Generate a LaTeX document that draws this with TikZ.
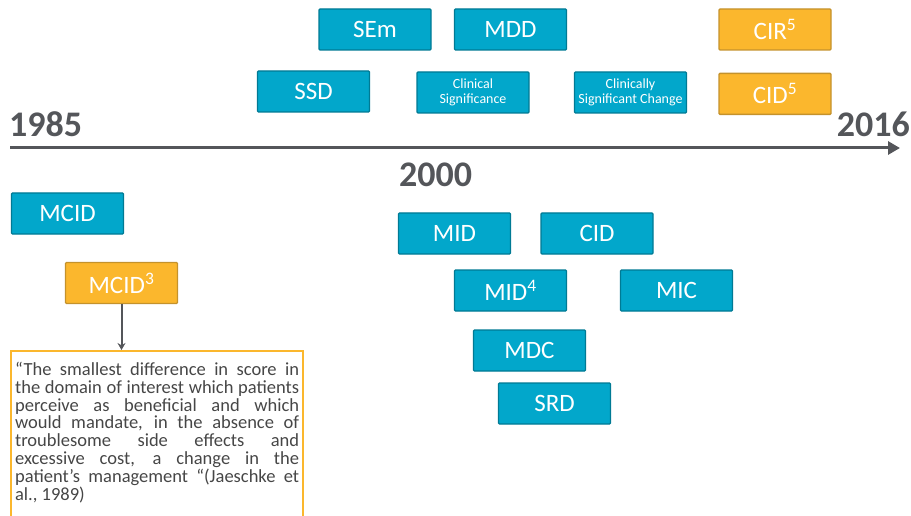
\documentclass[tikz,border=0pt]{standalone}
\usepackage{fontspec}
\setmainfont{Carlito}
\usepackage{tikz}
\usetikzlibrary{positioning}
\usetikzlibrary{arrows.meta}
\definecolor{boxblue}{RGB}{2, 167, 203}
\definecolor{blueedge}{RGB}{0, 122, 148}
\definecolor{amber}{RGB}{251, 183, 45}
\definecolor{amberedge}{RGB}{196, 146, 44}
\definecolor{slate}{RGB}{84, 86, 90}
\definecolor{quotegray}{RGB}{70, 70, 70}

\begin{document}
\begin{tikzpicture}[
    x=1pt, y=-1pt,
    node distance=22pt,
    % node styles
    term/.style = {
      draw=blueedge,
      fill=boxblue,
      line width=1.4pt,
      rounded corners=1pt,
      minimum width=112pt,
      minimum height=41pt,
      inner sep=0pt,
      align=center,
      font=\fontsize{25}{28}\selectfont,
      text=white
    },
    newterm/.style = {term, draw=amberedge, fill=amber},
    smallterm/.style = {term, font=\fontsize{14}{14.5}\selectfont},
    year/.style = {
      inner sep=0pt,
      font=\bfseries\fontsize{36}{36}\selectfont,
      text=slate
    },
    quotebox/.style = {
      draw=amber,
      line width=2.2pt,
      text width=284pt,
      inner xsep=4pt,
      inner ysep=11pt,
      align=justify,
      font=\fontsize{18.5}{17.8}\selectfont,
      text=quotegray
    },
    % arrow styles
    timearr/.style = {-{Triangle[length=12pt,width=13pt]}, line width=3pt, draw=slate},
    arr/.style = {-{Stealth[length=7pt,width=8pt]}, line width=2pt, draw=slate}
  ]
  \useasboundingbox (0,0) rectangle (911,516);
  \clip (0,0) rectangle (911,516);

  % --- Timeline
  \node[year, anchor=base west] (start) at (9,137) {1985};
  \node[year, anchor=base east] (end) at (910,137) {2016};
  \node[year, anchor=base west] (mid) at (399,187) {2000};
  \coordinate (tl0) at (10,148);
  \coordinate (tl1) at (900,148);
  \draw[timearr] (tl0) -- (tl1);

  % --- Terms above the line
  \node[term] (sem) at (375,29.5) {SEm};
  \node[term] (mdd) at (510.5,29.5) {MDD};
  \node[newterm] (cir) at (775,29.5) {CIR\textsuperscript{5}};
  \node[term] (ssd) at (313.5,91.5) {SSD};
  \node[smallterm] (clinsig) at (473,92.5) {Clinical\\Significance};
  \node[smallterm] (clinchange) at (630.5,92.5) {Clinically\\Significant Change};
  \node[newterm, below=of cir] (cidfive) {CID\textsuperscript{5}};

  % --- Terms below the line
  \node[term] (mcid) at (67.5,213.5) {MCID};
  \node[newterm] (mcidq) at (121.5,283) {MCID\textsuperscript{3}};
  \node[term] (mid) at (454.5,233.5) {MID};
  \node[term] (cid) at (597,233.5) {CID};
  \node[term] (midfour) at (510.5,290.5) {MID\textsuperscript{4}};
  \node[term] (mic) at (676.5,290.5) {MIC};
  \node[term] (mdc) at (529.5,350.5) {MDC};
  \node[term] (srd) at (554.5,403.5) {SRD};

  % --- Definition
  \node[quotebox, anchor=north west] (quote) at (10,350) {\hyphenpenalty=10000
    “The smallest difference in score in\linebreak
    the domain of interest which patients\linebreak
    perceive as beneficial and which\linebreak
    would mandate, in the absence of\linebreak
    troublesome side effects and\linebreak
    excessive cost, a change in the\linebreak
    patient’s management “(Jaeschke et\linebreak
    al., 1989)\par\vspace*{30pt}};

  \draw[arr] (mcidq.south) -- (mcidq.south |- quote.north);

\end{tikzpicture}
\end{document}
